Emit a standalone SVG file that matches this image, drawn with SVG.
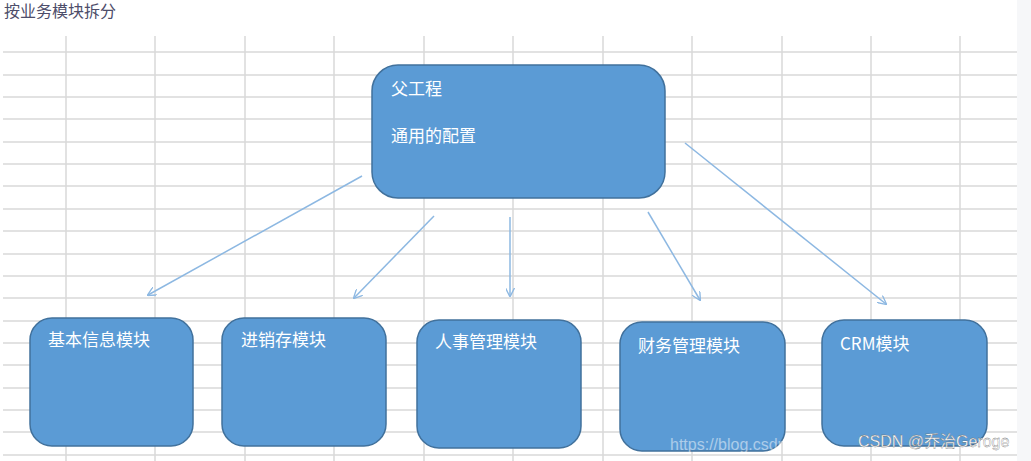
<svg xmlns="http://www.w3.org/2000/svg" width="1031" height="461" viewBox="0 0 1031 461">
<defs>
<style>
.g{stroke:#d9d9d9;stroke-width:1.5}
.n{fill:#5b9bd5;stroke:#41719c;stroke-width:1.5}
.t{fill:#fff;font-family:"Noto Sans CJK SC","Liberation Sans",sans-serif;font-size:17px}
.c{stroke:#8db8e2;stroke-width:1.5;fill:none;marker-end:url(#a)}
</style>
<marker id="a" viewBox="0 0 10 10" refX="9" refY="5" markerWidth="9" markerHeight="9" orient="auto" markerUnits="userSpaceOnUse"><path d="M0,0 L10,5 L0,10" fill="none" stroke="#8db8e2" stroke-width="1.5"/></marker>
</defs>
<rect width="1031" height="461" fill="#fff"/>
<rect x="1017" y="0" width="14" height="461" fill="#f6f7f9"/>
<text x="4" y="17" font-family="Noto Sans CJK SC,sans-serif" font-size="16" fill="#4d4d6a">按业务模块拆分</text>
<g id="grid">
<path class="g" d="M66 36V461M155 36V461M245 36V461M334 36V461M424 36V461M513 36V461M603 36V461M692 36V461M782 36V461M871 36V461M960 36V461"/>
<path class="g" d="M3 52H1017M3 75H1017M3 97H1017M3 119H1017M3 142H1017M3 164H1017M3 186H1017M3 209H1017M3 231H1017M3 254H1017M3 276H1017M3 298H1017M3 321H1017M3 343H1017M3 365H1017M3 388H1017M3 410H1017M3 432H1017M3 455H1017"/>
</g>
<g id="connectors">
<line class="c" x1="362" y1="176" x2="148" y2="295"/>
<line class="c" x1="434" y1="216" x2="354" y2="298"/>
<line class="c" x1="510" y1="217" x2="510" y2="296"/>
<line class="c" x1="648" y1="212" x2="700" y2="300"/>
<line class="c" x1="685" y1="143" x2="886" y2="304"/>
</g>
<g id="parent"><rect class="n" x="372" y="65" width="293" height="133" rx="26"/><text class="t" x="391" y="95">父工程</text><text class="t" x="391" y="142">通用的配置</text></g>
<g id="n1"><rect class="n" x="30" y="318" width="163" height="128" rx="22"/><text class="t" x="48" y="346">基本信息模块</text></g>
<g id="n2"><rect class="n" x="222" y="318" width="164" height="128" rx="22"/><text class="t" x="241" y="346">进销存模块</text></g>
<g id="n3"><rect class="n" x="417" y="320" width="164" height="128" rx="22"/><text class="t" x="435" y="348">人事管理模块</text></g>
<g id="n4"><rect class="n" x="620" y="322" width="165" height="129" rx="22"/><text class="t" x="638" y="352">财务管理模块</text></g>
<g id="n5"><rect class="n" x="822" y="320" width="165" height="126" rx="22"/><text class="t" x="840" y="350">CRM模块</text></g>
<text x="670" y="450" font-family="Liberation Sans,sans-serif" font-size="16" fill="#ffffff" fill-opacity="0.5">https://blog.csdn.net/w</text>
<text x="858" y="447" font-family="Liberation Sans,Noto Sans CJK SC,sans-serif" font-size="16" fill="#fff" stroke="#666" stroke-width="0.3">CSDN @乔治Geroge</text>
</svg>
